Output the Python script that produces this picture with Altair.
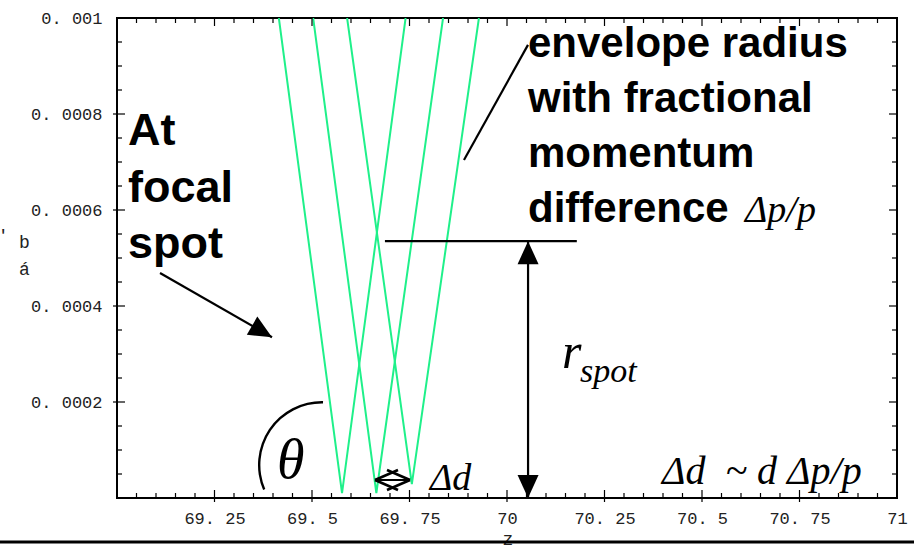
import altair as alt
import pandas as pd

# --- envelope traces: three momentum offsets, each focusing at its own z ---
trace_id = ["a", "a", "a", "b", "b", "b", "c", "c", "c"]
trace_z = [69.415, 69.577, 69.740, 69.503, 69.665, 69.836, 69.590, 69.756, 69.928]
trace_r = [0.001, 0.0000104, 0.001, 0.001, 0.0000104, 0.001, 0.001, 0.000029, 0.001]

# --- axis ticks and labels ---
x_labels = [69.25, 69.5, 69.75, 70.0, 70.25, 70.5, 70.75, 71.0]
y_labels = [0.0002, 0.0004, 0.0006, 0.0008, 0.001]
x_major = [69.25, 69.5, 69.75, 70.0, 70.25, 70.5, 70.75]
x_minor = [round(69 + 0.05 * i, 2) for i in range(1, 40) if i % 5]
y_major = [0.0002, 0.0004, 0.0006, 0.0008]
y_minor = [round(0.00005 * i, 5) for i in range(1, 20) if i % 4]

# --- annotation geometry (in data coordinates) ---
seg_z = [69.687, 70.054, 69.1103, 69.8897, 69.6615]
seg_r = [0.000535, 0.000535, 0.00046875, 0.000704, 0.0000375]
seg_z2 = [70.179, 70.054, 69.3974, 70.0538, 69.7513]
seg_r2 = [0.000535, 0.0, 0.000335, 0.000944, 0.0000375]

chev_z = [69.6615, 69.6615, 69.7513, 69.7513]
chev_r = [0.0000375, 0.0000375, 0.0000375, 0.0000375]
chev_z2 = [69.7205, 69.7205, 69.6923, 69.6923]
chev_r2 = [0.0000583, 0.0000167, 0.0000583, 0.0000167]

head_z = [70.054, 70.054, 69.3974]
head_r = [0.000535, 0.0, 0.000335]
head_angle = [0, 180, 120]

arc_z = [69.5256]
arc_r = [0.00006875]

focal_text = ["At", "focal", "spot"]
focal_z = [69.0282, 69.0282, 69.0282]
focal_r = [0.000735, 0.0006167, 0.0005]

env_text = ["envelope radius", "with fractional", "momentum", "difference"]
env_z = [70.0538, 70.0538, 70.0538, 70.0538]
env_r = [0.00091875, 0.000804, 0.0006896, 0.000575]

NB = "\u00a0"
math_text = ["\u0394p/p", "\u0394d", "\u0394d" + NB + NB + "~" + NB + "d" + NB + "\u0394p/p"]
math_z = [70.6103, 69.8026, 70.3974]
math_r = [0.000575, 0.0000167, 0.0000292]

xs = alt.Scale(domain=[69, 71], nice=False, zero=False)
ys = alt.Scale(domain=[0, 0.001], nice=False, zero=False)

x_axis = alt.Axis(
    values=x_labels, format=".2~f", title=None,
    labelExpr="replace(datum.label, '.', '. ')",
    labelPadding=12, labelFlush=False, labelOverlap=False, labelBound=False)
y_axis = alt.Axis(
    values=y_labels, format=".4~f", title=None,
    labelExpr="replace(datum.label, '.', '. ')",
    labelPadding=15, labelFlush=False, labelOverlap=False, labelBound=False)

W, H = 780, 480
SANS = "Liberation Sans"
SERIF = "Liberation Serif"
MONO = "Liberation Mono"
GREEN = "#1ff08a"


def X(field="z:Q"):
    return alt.X(field, scale=xs, axis=x_axis)


def Y(field="r:Q"):
    return alt.Y(field, scale=ys, axis=y_axis)


traces = pd.DataFrame({"trace": trace_id, "z": trace_z, "r": trace_r})
lines = alt.Chart(traces).mark_line(color=GREEN, strokeWidth=2, clip=True).encode(
    x=X(), y=Y(), detail="trace:N")


def xticks(vals, y0, y1):
    return alt.Chart(pd.DataFrame({"z": vals})).mark_rule(color="black", strokeWidth=1.2).encode(
        x=X(), y=alt.value(y0), y2=alt.value(y1))


def yticks(vals, x0, x1):
    return alt.Chart(pd.DataFrame({"r": vals})).mark_rule(color="black", strokeWidth=1.2).encode(
        y=Y(), x=alt.value(x0), x2=alt.value(x1))


ticks = [
    xticks(x_minor, H, H - 5), xticks(x_major, H + 4, H - 8),
    xticks(x_minor, 0, 5), xticks(x_major, 0, 8),
    yticks(y_minor, 0, 5), yticks(y_major, -4, 8),
    yticks(y_minor, W, W - 5), yticks(y_major, W, W - 8),
]


def segments(zs, rs, zs2, rs2, width):
    df = pd.DataFrame({"z": zs, "r": rs, "z2": zs2, "r2": rs2})
    return alt.Chart(df).mark_rule(color="black", strokeWidth=width).encode(
        x=X(), y=Y(), x2="z2:Q", y2="r2:Q")


pointers = segments(seg_z, seg_r, seg_z2, seg_r2, 2.2)
chevrons = segments(chev_z, chev_r, chev_z2, chev_r2, 2.6)

heads = alt.Chart(pd.DataFrame({"z": head_z, "r": head_r, "a": head_angle})).mark_point(
    shape="M0,0L-1.05,2.3L1.05,2.3Z", filled=True, size=400, color="black", opacity=1,
).encode(x=X(), y=Y(), angle=alt.Angle("a:Q", scale=None))

arc = alt.Chart(pd.DataFrame({"z": arc_z, "r": arc_r})).mark_arc(
    radius=64, radius2=61.6, theta=4.31, theta2=6.30, color="black",
).encode(x=X(), y=Y())


def words(texts, zs, rs, font, size, style="normal", weight="normal"):
    df = pd.DataFrame({"t": texts, "z": zs, "r": rs})
    return alt.Chart(df).mark_text(
        align="left", baseline="alphabetic", font=font, fontSize=size,
        fontStyle=style, fontWeight=weight, color="black",
    ).encode(x=X(), y=Y(), text="t:N")


focal = words(focal_text, focal_z, focal_r, SANS, 45, weight="bold")
envelope = words(env_text, env_z, env_r, SANS, 42, weight="bold")
math = words(math_text[:2], math_z[:2], math_r[:2], SERIF, 38, style="italic")
relation = words(math_text[2:], math_z[2:], math_r[2:], SERIF, 40, style="italic")
theta = words(["\u03b8"], [69.4103], [0.0000417], SERIF, 56, style="italic")
r_main = words(["r"], [70.141], [0.000271], SERIF, 50, style="italic")
r_sub = words(["spot"], [70.1872], [0.0002417], SERIF, 34, style="italic")


def pix_text(text, px, py, size, align="left", weight="normal"):
    return alt.Chart(pd.DataFrame({"t": [text]})).mark_text(
        align=align, baseline="alphabetic", font=MONO, fontSize=size,
        fontWeight=weight, color="#222",
    ).encode(x=alt.value(px), y=alt.value(py), text="t:N")


y_title_b = pix_text("b", -98, 230, 18)
y_title_a = pix_text("\u00e1", -98, 257, 18)
y_title_mark = pix_text("'", -118, 222, 14, weight="bold")
x_title = pix_text("z", 391, 527, 18, align="center")

base_rule = alt.Chart(pd.DataFrame({"k": [0]})).mark_rule(color="black", strokeWidth=3).encode(
    x=alt.value(-117), x2=alt.value(797), y=alt.value(524))

chart = alt.layer(
    lines, *ticks, pointers, chevrons, heads, arc,
    focal, envelope, math, relation, theta, r_main, r_sub,
    y_title_b, y_title_a, y_title_mark, x_title, base_rule,
).properties(
    width=W, height=H,
    autosize=alt.AutoSizeParams(type="none"),
    padding={"left": 117, "top": 18, "right": 17, "bottom": 47},
    background="white",
).configure_view(
    stroke="black", strokeWidth=2,
).configure_axis(
    grid=False, domain=False, ticks=False,
    labelFont=MONO, labelFontSize=17, labelColor="#222",
)

chart.save("out.html", embed_options={"renderer": "svg", "actions": False})
